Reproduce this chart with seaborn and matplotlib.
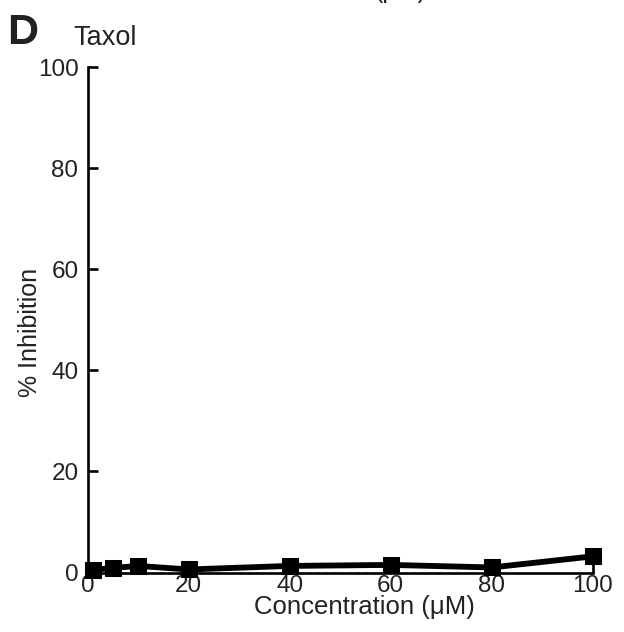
import matplotlib
matplotlib.use("Agg")
import matplotlib.pyplot as plt
import seaborn as sns
import pandas as pd

# Data
concentration = [1, 5, 10, 20, 40, 60, 80, 100]
inhibition = [0.5, 0.9, 1.3, 0.6, 1.3, 1.5, 1.0, 3.2]
x_ticks = [0, 20, 40, 60, 80, 100]
y_ticks = [0, 20, 40, 60, 80, 100]

sns.set_style("ticks")
plt.rcParams["font.family"] = ["Liberation Sans", "DejaVu Sans"]

W, H = 624, 632
fig = plt.figure(figsize=(W / 100, H / 100), dpi=100)
left, right, top, bottom = 87.5, 593, 67, 572.5
ax = fig.add_axes([left / W, 1 - bottom / H, (right - left) / W, (bottom - top) / H])

df = pd.DataFrame({"Concentration": concentration, "Inhibition": inhibition})
sns.lineplot(data=df, x="Concentration", y="Inhibition", ax=ax, color="black",
             marker="s", markersize=12, linewidth=4.2, markeredgecolor="black",
             clip_on=False, zorder=5)

ax.set_xlim(0, 100)
ax.set_ylim(0, 100)
ax.set_xticks(x_ticks)
ax.set_yticks(y_ticks)
ax.set_xlabel("")
ax.set_ylabel("")
for s in ["top", "right"]:
    ax.spines[s].set_visible(False)
for s in ["left", "bottom"]:
    ax.spines[s].set_linewidth(1.9)
    ax.spines[s].set_color("black")
ax.tick_params(axis="both", direction="in", length=7, width=1.9, colors="black",
               labelsize=17.5, labelcolor="#222222")
ax.tick_params(axis="y", pad=6.5)
ax.tick_params(axis="x", pad=1.5)

fig.text(30 / W, 1 - 332 / H, "% Inhibition", rotation=90, ha="center", va="center",
         fontsize=18, color="#222222")
fig.text(364 / W, 1 - 607 / H, "Concentration (μM)", ha="center", va="center",
         fontsize=18.5, color="#222222")
fig.text(73 / W, 1 - 45 / H, "Taxol", ha="left", va="baseline", fontsize=19.5,
         color="#222222")
fig.text(7 / W, 1 - 44 / H, "D", ha="left", va="baseline", fontsize=31,
         fontweight="bold", color="#222222")
fig.text(400 / W, 1 + 2 / H, "(μM)", ha="center", va="baseline", fontsize=18,
         color="#222222")

fig.savefig("out.png", dpi=100)
